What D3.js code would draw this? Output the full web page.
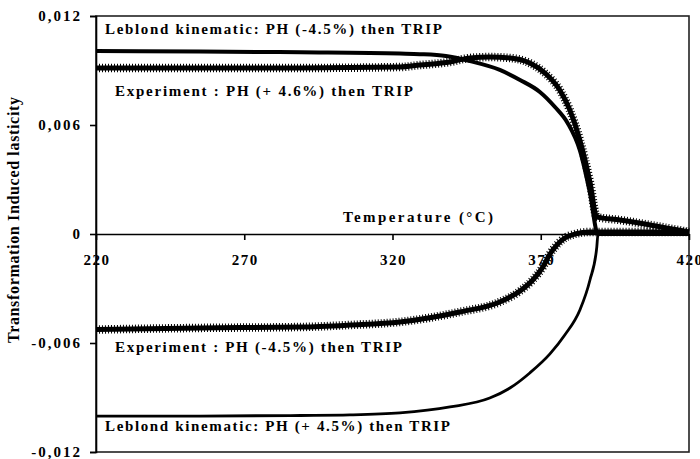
<!DOCTYPE html>
<html><head><meta charset="utf-8">
<script src="https://cdn.jsdelivr.net/npm/d3@7"></script>
<style>
body{margin:0;background:#fff}
text{font-family:"Liberation Serif","Times New Roman",serif;font-weight:bold;fill:#000}
</style>
</head><body>
<svg id="c" width="700" height="459"></svg>
<script>
// ---- data ----
const xTicks = [220, 270, 320, 370, 420];
const xTickLabels = ["220", "270", "320", "370", "420"];
const yTicks = [0.012, 0.006, 0, -0.006, -0.012];
const yTickLabels = ["0,012", "0,006", "0", "-0,006", "-0,012"];

const leblondMinusT = [220, 255, 289, 322.5, 329.2, 338, 346.1, 356.2, 363, 369.7, 374.8, 379.1, 383.2, 386.6, 389.3, 400, 420];
const leblondMinusV = [0.01007, 0.01005, 0.01000, 0.00993, 0.00990, 0.00980, 0.00952, 0.00903, 0.00848, 0.00782, 0.00699, 0.0061, 0.00460, 0.00225, 0, 0, 0];

const expPlusT = [220, 255, 289, 322.5, 329.2, 339.4, 346.1, 352.8, 359.6, 366.3, 371.4, 376.4, 379.8, 383.2, 386.6, 388.9, 396.7, 406.8, 420];
const expPlusV = [0.00914, 0.00914, 0.00914, 0.00919, 0.0093, 0.00947, 0.00969, 0.00974, 0.00969, 0.00941, 0.00886, 0.00793, 0.00683, 0.00517, 0.00286, 0.00094, 0.00077, 0.0005, 0.00011];

const expMinusT = [220, 255, 289, 305.6, 322.5, 342.7, 356.2, 363, 367.3, 370.7, 373.1, 375.4, 378.1, 381.5, 386.6, 400, 420];
const expMinusV = [-0.00526, -0.00517, -0.00512, -0.00501, -0.00484, -0.00429, -0.00374, -0.00314, -0.00253, -0.00182, -0.0011, -0.00061, -0.00022, 0, 0.00011, 0.00011, 0.00011];

const leblondPlusT = [220, 255, 289, 305.6, 322.5, 339.4, 352.8, 359.6, 366.3, 373.1, 378.1, 383.2, 386.6, 388.9, 389.3, 400, 420];
const leblondPlusV = [-0.01002, -0.01002, -0.00999, -0.00996, -0.00985, -0.00952, -0.00903, -0.00848, -0.00765, -0.0066, -0.00556, -0.00418, -0.00253, -0.00072, 0, 0, 0];

const seriesLabels = [
  "Leblond kinematic: PH (-4.5%) then TRIP",
  "Experiment : PH (+ 4.6%) then TRIP",
  "Experiment : PH (-4.5%) then TRIP",
  "Leblond kinematic: PH (+ 4.5%) then TRIP"
];
const xTitle = "Temperature (°C)";
const yTitle = "Transformation Induced lasticity";

// ---- drawing ----
const svg = d3.select("#c");
const L = 96, R = 689, T = 16, B = 452;
const x = d3.scaleLinear().domain([220, 420]).range([L, R]);
const y = d3.scaleLinear().domain([-0.012, 0.012]).range([B, T]);

// tick labels (drawn first so lines/curves overlay them)
svg.append("g").selectAll("text").data(yTicks).join("text")
  .attr("x", 82).attr("y", d => y(d)).attr("dy", "0.35em")
  .attr("text-anchor", "end").style("font-size", "15px").style("letter-spacing", "2px")
  .text((d, i) => yTickLabels[i]);
svg.append("g").selectAll("text").data(xTicks).join("text")
  .attr("x", d => x(d) + 1).attr("y", 265)
  .attr("text-anchor", "middle").style("font-size", "15px").style("letter-spacing", "1.5px")
  .text((d, i) => xTickLabels[i]);

// frame
svg.append("rect").attr("x", L).attr("y", T).attr("width", R - L).attr("height", B - T)
  .attr("fill", "none").attr("stroke", "#222").attr("stroke-width", 1.6);

// y axis
const yAxis = d3.axisLeft(y).tickValues(yTicks).tickSize(6).tickFormat("");
svg.append("g").attr("transform", `translate(${L},0)`).call(yAxis)
  .call(g => g.selectAll("path,line").attr("stroke", "#000").attr("stroke-width", 1.6));
// x axis at zero
const xAxis = d3.axisBottom(x).tickValues(xTicks).tickSize(6).tickSizeOuter(0).tickFormat("");
svg.append("g").attr("transform", `translate(0,${y(0)})`).call(xAxis)
  .call(g => g.selectAll("path,line").attr("stroke", "#000").attr("stroke-width", 1.6));

// titles
svg.append("text").attr("x", 343).attr("y", 222).style("font-size", "15px")
  .attr("textLength", 150).attr("lengthAdjust", "spacing").text(xTitle);
svg.append("text").attr("transform", "translate(19,343) rotate(-90)")
  .style("font-size", "16px").attr("textLength", 246).attr("lengthAdjust", "spacing")
  .text(yTitle);

// curves
const line = d3.line().x(d => x(d[0])).y(d => y(d[1])).curve(d3.curveMonotoneX);
const zip = (a, b) => a.map((v, i) => [v, b[i]]);

function solid(T_, V_, w) {
  svg.append("path").datum(zip(T_, V_)).attr("d", line)
    .attr("fill", "none").attr("stroke", "#000").attr("stroke-width", w)
    .attr("stroke-linejoin", "round");
}
function hatched(T_, V_) {
  const p = zip(T_, V_);
  svg.append("path").datum(p).attr("d", line)
    .attr("fill", "none").attr("stroke", "#000").attr("stroke-width", 5);
  svg.append("path").datum(p).attr("d", line)
    .attr("fill", "none").attr("stroke", "#000").attr("stroke-width", 8.5)
    .attr("stroke-dasharray", "1 2");
}
solid(leblondPlusT, leblondPlusV, 2.8);
hatched(expMinusT, expMinusV);
hatched(expPlusT, expPlusV);
solid(leblondMinusT, leblondMinusV, 4);

// series labels
const lab = [
  {x: 105, y: 34, w: 337},
  {x: 115, y: 96, w: 298},
  {x: 115, y: 352, w: 287},
  {x: 105, y: 431, w: 345}
];
svg.append("g").selectAll("text").data(seriesLabels).join("text")
  .attr("x", (d, i) => lab[i].x).attr("y", (d, i) => lab[i].y)
  .attr("textLength", (d, i) => lab[i].w).attr("lengthAdjust", "spacing")
  .style("font-size", "15px").text(d => d);
</script>
</body></html>
